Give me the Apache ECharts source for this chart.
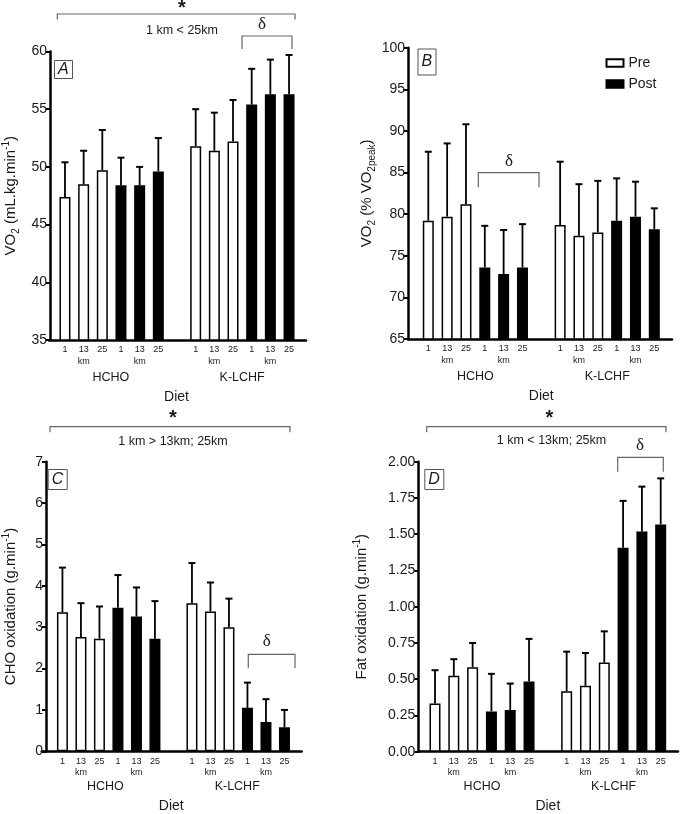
<!DOCTYPE html>
<html>
<head>
<meta charset="utf-8">
<script src="https://cdn.jsdelivr.net/npm/echarts@6/dist/echarts.min.js"></script>
<style>
html,body{margin:0;padding:0;background:#fff;}
#chart{width:680px;height:814px;}
</style>
</head>
<body>
<div id="chart"></div>
<script>
// ---------- DATA ----------
const diets = ['HCHO', 'K-LCHF'];
const distances = ['1', '13\nkm', '25'];
const panelLetters = ['A', 'B', 'C', 'D'];

// values ordered: HCHO 1,13,25 then K-LCHF 1,13,25
const vo2AbsPre = [47.4, 48.5, 49.7, 51.8, 51.4, 52.2];
const vo2AbsPreSD = [3.0, 2.9, 3.5, 3.2, 3.3, 3.6];
const vo2AbsPost = [48.4, 48.4, 49.6, 55.4, 56.3, 56.3];
const vo2AbsPostSD = [2.4, 1.6, 2.9, 3.1, 3.0, 3.4];

const vo2PctPre = [79.2, 79.7, 81.2, 78.7, 77.4, 77.8];
const vo2PctPreSD = [8.3, 8.8, 9.6, 7.6, 6.2, 6.2];
const vo2PctPost = [73.6, 72.8, 73.6, 79.2, 79.7, 78.2];
const vo2PctPostSD = [5.0, 5.3, 5.2, 5.1, 4.2, 2.5];

const choPre = [3.36, 2.76, 2.72, 3.58, 3.38, 3.00];
const choPreSD = [1.08, 0.82, 0.78, 0.97, 0.70, 0.69];
const choPost = [3.47, 3.26, 2.72, 1.05, 0.71, 0.58];
const choPostSD = [0.79, 0.70, 0.91, 0.61, 0.55, 0.42];

const fatPre = [0.333, 0.523, 0.583, 0.417, 0.454, 0.615];
const fatPreSD = [0.229, 0.115, 0.167, 0.273, 0.227, 0.215];
const fatPost = [0.278, 0.287, 0.484, 1.406, 1.518, 1.567];
const fatPostSD = [0.259, 0.183, 0.294, 0.324, 0.310, 0.318];

const yTicksA = [35, 60, 5];
const yTicksB = [65, 100, 5];
const yTicksC = [0, 7, 1];
const yTicksD = [0, 2, 0.25];

const yTitles = [
  'VO{sub|2} (mL.kg.min{sup|-1})',
  'VO{sub|2} (% VO{sub|2peak})',
  'CHO oxidation (g.min{sup|-1})',
  'Fat oxidation (g.min{sup|-1})'
];

// ---------- LAYOUT (pixels) ----------
const layouts = [
  {axisX: 49,    axisEnd: 306,   top: 51.5,  bottom: 340,   first: 64,    last: 289,   nameGap: 29, dec: 0},
  {axisX: 408,   axisEnd: 672,   top: 47.7,  bottom: 339,   first: 428.3, last: 654.3, nameGap: 31, dec: 0},
  {axisX: 41.7,  axisEnd: 301.7, top: 461.7, bottom: 751.3, first: 58.3,  last: 284.3, nameGap: 25, dec: 0},
  {axisX: 418.3, axisEnd: 678,   top: 461.7, bottom: 751.7, first: 435,   last: 660.7, nameGap: 46, dec: 2}
];
const letterBoxes = [
  {left: 54, top: 60, h: 19},
  {left: 417.5, top: 49, h: 26},
  {left: 47.7, top: 469.5, h: 20},
  {left: 424.3, top: 469.5, h: 20}
];

const panelData = [
  {pre: vo2AbsPre, preSD: vo2AbsPreSD, post: vo2AbsPost, postSD: vo2AbsPostSD, ticks: yTicksA},
  {pre: vo2PctPre, preSD: vo2PctPreSD, post: vo2PctPost, postSD: vo2PctPostSD, ticks: yTicksB},
  {pre: choPre, preSD: choPreSD, post: choPost, postSD: choPostSD, ticks: yTicksC},
  {pre: fatPre, preSD: fatPreSD, post: fatPost, postSD: fatPostSD, ticks: yTicksD}
];

const FONT = '"Liberation Sans", Arial, Helvetica, sans-serif';
const SERIF = '"Liberation Serif", "Times New Roman", serif';
const TXT = '#1a1a1a';

// category slots: HCHO pre(3) post(3), gap, K-LCHF pre(3) post(3)
const categories = [];
const slotMap = []; // [diet, phase, dist]
diets.forEach((d, di) => {
  ['pre', 'post'].forEach(ph => {
    distances.forEach((ds, k) => { categories.push(ds); slotMap.push([di, ph, k]); });
  });
  if (di === 0) { categories.push(''); slotMap.push(null); }
});

const grids = [], xAxes = [], yAxes = [], series = [], titles = [];

panelData.forEach((pd, p) => {
  const L = layouts[p];
  const s = (L.last - L.first) / 12;
  const gl = L.first - s / 2;
  const gw = 13 * s;
  const h = L.bottom - L.top;
  const gi = grids.length;

  grids.push({left: gl, top: L.top, width: gw, height: h});
  grids.push({left: L.axisX, top: L.top, width: L.axisEnd - L.axisX, height: h});
  grids.push({left: gl - s / 2, top: L.top, width: 14 * s, height: h});

  xAxes.push({
    gridIndex: gi, type: 'category', data: categories,
    axisLine: {show: false}, axisTick: {show: false},
    axisLabel: {interval: 0, fontSize: 9, lineHeight: 11.5, margin: 4, color: TXT, fontFamily: FONT}
  });
  xAxes.push({
    gridIndex: gi + 1, type: 'value', min: 0, max: 1,
    axisLine: {show: true, onZero: false, lineStyle: {color: '#000', width: 2.5}},
    axisTick: {show: false}, axisLabel: {show: false}, splitLine: {show: false}
  });
  xAxes.push({
    gridIndex: gi + 2, type: 'category', data: diets,
    axisLine: {show: false}, axisTick: {show: false},
    axisLabel: {fontSize: 12.5, margin: 31, color: TXT, fontFamily: FONT},
    name: 'Diet', nameLocation: 'middle', nameGap: 50,
    nameTextStyle: {fontSize: 14, color: TXT, fontFamily: FONT}
  });

  yAxes.push({
    gridIndex: gi, type: 'value', min: pd.ticks[0], max: pd.ticks[1], interval: pd.ticks[2],
    offset: gl - L.axisX,
    axisLine: {show: true, lineStyle: {color: '#000', width: 2.5}},
    axisTick: {show: true, length: 4, lineStyle: {color: '#000', width: 2}},
    axisLabel: {fontSize: 14, margin: 3, color: TXT, fontFamily: FONT,
      formatter: v => v.toFixed(L.dec)},
    splitLine: {show: false},
    name: yTitles[p], nameLocation: 'middle', nameGap: L.nameGap, nameRotate: 90,
    nameTextStyle: {
      fontSize: 15, color: TXT, fontFamily: FONT, lineHeight: 20,
      rich: {
        sub: {fontSize: 10, color: TXT, fontFamily: FONT, verticalAlign: 'bottom', lineHeight: 10},
        sup: {fontSize: 10, color: TXT, fontFamily: FONT, verticalAlign: 'top', lineHeight: 10}
      }
    }
  });
  yAxes.push({gridIndex: gi + 1, type: 'value', show: false, min: 0, max: 1});
  yAxes.push({gridIndex: gi + 2, type: 'value', show: false, min: 0, max: 1});

  const preData = slotMap.map(m => m && m[1] === 'pre' ? pd.pre[m[0] * 3 + m[2]] : null);
  const postData = slotMap.map(m => m && m[1] === 'post' ? pd.post[m[0] * 3 + m[2]] : null);
  const errData = [];
  slotMap.forEach((m, i) => {
    if (!m) return;
    const j = m[0] * 3 + m[2];
    if (m[1] === 'pre') errData.push([i, pd.pre[j], pd.preSD[j]]);
    else errData.push([i, pd.post[j], pd.postSD[j]]);
  });

  series.push({
    name: 'Pre', type: 'bar', xAxisIndex: gi, yAxisIndex: gi, data: preData,
    barWidth: 11, barGap: '-100%',
    itemStyle: {color: '#fff', borderColor: '#000', borderWidth: 1.5}
  });
  series.push({
    name: 'Post', type: 'bar', xAxisIndex: gi, yAxisIndex: gi, data: postData,
    barWidth: 11, barGap: '-100%',
    itemStyle: {color: '#000', borderColor: '#000', borderWidth: 1.5}
  });
  series.push({
    type: 'custom', xAxisIndex: gi, yAxisIndex: gi, data: errData, z: 5,
    renderItem: (params, api) => {
      const x = api.value(0), m = api.value(1), e = api.value(2);
      const p0 = api.coord([x, m]);
      const p1 = api.coord([x, m + e]);
      return {
        type: 'group',
        children: [
          {type: 'line', shape: {x1: p0[0], y1: p0[1], x2: p1[0], y2: p1[1]},
            style: {stroke: '#000', lineWidth: 1.8}},
          {type: 'line', shape: {x1: p1[0] - 3.5, y1: p1[1], x2: p1[0] + 3.5, y2: p1[1]},
            style: {stroke: '#000', lineWidth: 2}}
        ]
      };
    }
  });

  const lb = letterBoxes[p];
  titles.push({
    text: panelLetters[p], left: lb.left, top: lb.top,
    borderColor: '#555', borderWidth: 1,
    padding: [(lb.h - 17) / 2, 4],
    textStyle: {fontSize: 16, fontStyle: 'italic', fontWeight: 'normal', color: TXT,
      fontFamily: FONT, lineHeight: 17}
  });
});

// ---------- ANNOTATIONS ----------
function txt(t, x, y, size, family, weight) {
  return {type: 'text', silent: true, style: {
    text: t, x: x, y: y, fill: TXT,
    font: (weight || 'normal') + ' ' + size + 'px ' + family,
    textAlign: 'center', textVerticalAlign: 'middle', align: 'center', verticalAlign: 'middle'
  }};
}
function bracket(x1, x2, yTop, yBot) {
  return {type: 'polyline', silent: true,
    shape: {points: [[x1, yBot], [x1, yTop], [x2, yTop], [x2, yBot]]},
    style: {stroke: '#666', lineWidth: 1.2, fill: null}};
}
const graphics = [
  // A
  txt('*', 182, 8, 20, FONT, 'bold'),
  bracket(57.3, 295, 14, 19.5),
  txt('1 km < 25km', 182, 31, 12.5, FONT),
  txt('δ', 262, 25, 17, SERIF),
  bracket(242, 292, 36, 49),
  // B
  txt('δ', 509, 162, 17, SERIF),
  bracket(478.3, 539, 172.7, 187.3),
  // C
  txt('*', 173, 418, 20, FONT, 'bold'),
  bracket(50, 290, 426.7, 432.3),
  txt('1 km > 13km; 25km', 173, 441.7, 12.5, FONT),
  txt('δ', 266.7, 642, 17, SERIF),
  bracket(248.3, 295, 654.3, 668.3),
  // D
  txt('*', 549.3, 418, 20, FONT, 'bold'),
  bracket(426.7, 666, 426.7, 432.3),
  txt('1 km < 13km; 25km', 551.5, 440.7, 12.5, FONT),
  txt('δ', 640, 446, 17, SERIF),
  bracket(617.7, 663.3, 457.3, 471.7)
];

const chart = echarts.init(document.getElementById('chart'), null, {renderer: 'canvas'});
chart.setOption({
  animation: false,
  backgroundColor: '#fff',
  title: titles,
  legend: {
    data: ['Pre', 'Post'], orient: 'vertical', left: 605.5, top: 55.5, padding: 0,
    itemWidth: 17, itemHeight: 7.5, itemGap: 6,
    icon: 'rect',
    textStyle: {fontSize: 14, color: TXT, fontFamily: FONT, lineHeight: 15},
    selectedMode: false
  },
  grid: grids,
  xAxis: xAxes,
  yAxis: yAxes,
  series: series,
  graphic: {elements: graphics}
});
</script>
</body>
</html>
